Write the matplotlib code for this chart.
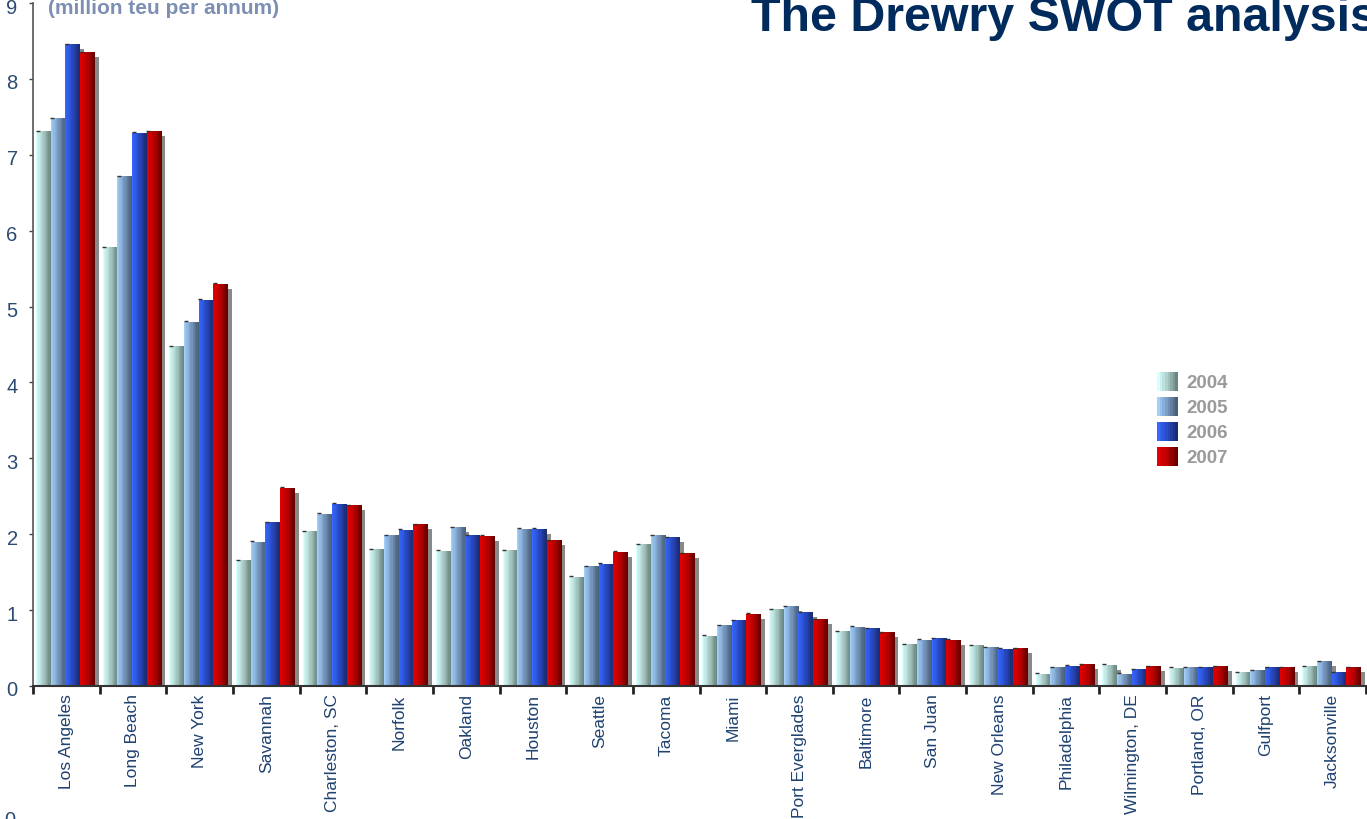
import numpy as np
import matplotlib
matplotlib.use("Agg")
import matplotlib.pyplot as plt
import matplotlib.transforms as mtransforms
from matplotlib.colors import LinearSegmentedColormap
from matplotlib.legend_handler import HandlerBase
from matplotlib.patches import Rectangle

plt.rcParams['font.family'] = ['Liberation Sans', 'DejaVu Sans']

# 港口 (million teu per annum)
ports = ["Los Angeles", "Long Beach", "New York", "Savannah", "Charleston, SC",
         "Norfolk", "Oakland", "Houston", "Seattle", "Tacoma", "Miami",
         "Port Everglades", "Baltimore", "San Juan", "New Orleans",
         "Philadelphia", "Wilmington, DE", "Portland, OR", "Gulfport", "Jacksonville"]
years = ["2004", "2005", "2006", "2007"]
teu_2004 = [7.31, 5.78, 4.48, 1.66, 2.04, 1.80, 1.78, 1.79, 1.44, 1.87,
            0.66, 1.01, 0.72, 0.55, 0.54, 0.16, 0.28, 0.24, 0.18, 0.26]
teu_2005 = [7.48, 6.72, 4.80, 1.90, 2.27, 1.99, 2.09, 2.07, 1.58, 1.99,
            0.80, 1.05, 0.78, 0.61, 0.51, 0.25, 0.16, 0.25, 0.21, 0.33]
teu_2006 = [8.46, 7.29, 5.09, 2.16, 2.40, 2.06, 1.99, 2.07, 1.61, 1.96,
            0.87, 0.97, 0.76, 0.63, 0.49, 0.27, 0.22, 0.25, 0.25, 0.18]
teu_2007 = [8.35, 7.31, 5.30, 2.61, 2.38, 2.13, 1.98, 1.92, 1.77, 1.75,
            0.95, 0.88, 0.71, 0.61, 0.50, 0.29, 0.26, 0.26, 0.25, 0.25]
series = [teu_2004, teu_2005, teu_2006, teu_2007]

# 漸層顏色 (左亮右暗)
grad_colors = [["#d8fffe", "#a9cac6", "#6a8681"],
               ["#a2cef9", "#7597bd", "#4a5f7a"],
               ["#3568ff", "#2848c0", "#1a2b72"],
               ["#e20000", "#b80000", "#660000"]]
cmaps = [LinearSegmentedColormap.from_list(f"g{i}", c) for i, c in enumerate(grad_colors)]

fig = plt.figure(figsize=(13.67, 8.19), dpi=100)
ax = fig.add_axes([33 / 1367, 133 / 819, 1333 / 1367, 683 / 819])

x = np.arange(len(ports))
bw = 0.22
start = 0.045
stripes = np.linspace(0, 1, 12).reshape(1, -1)

# 陰影
for j, vals in enumerate(series):
    ax.bar(x + start + j * bw + 0.06, np.array(vals) - 0.066, width=bw, align="edge",
           color="#898989", linewidth=0, zorder=1)

# 漸層長條
for j, vals in enumerate(series):
    bars = ax.bar(x + start + j * bw, vals, width=bw, align="edge",
                  color="none", linewidth=0, zorder=2)
    for b in bars:
        bx, by = b.get_x(), b.get_y()
        im = ax.imshow(stripes, cmap=cmaps[j], aspect="auto", interpolation="nearest",
                       extent=[bx, bx + b.get_width(), by, by + b.get_height()], zorder=2)
        im.set_clip_path(b)
    # 長條左上角的小黑線
    ax.plot(x + start + j * bw + 0.025, np.array(vals) + 0.006, ls="none", marker="_",
            ms=2.2, mew=1, color="#333333", zorder=3)

ax.set_xlim(0, len(ports))
ax.set_ylim(0, 9)

# 座標軸
ax.spines["top"].set_visible(False)
ax.spines["right"].set_visible(False)
ax.spines["left"].set_color("#555555")
ax.spines["left"].set_linewidth(1.2)
ax.spines["bottom"].set_color("#333333")
ax.spines["bottom"].set_linewidth(1.5)

ax.set_yticks(range(10))
ax.tick_params(axis="y", length=3, width=1, color="#444444", pad=8,
               labelsize=14.5, labelcolor="#2b4a72")
shift = mtransforms.ScaledTranslation(0, -3 / 100, fig.dpi_scale_trans)
for lab in ax.get_yticklabels():
    lab.set_transform(lab.get_transform() + shift)

ax.set_xticks(np.arange(len(ports) + 1))
ax.set_xticklabels([])
ax.tick_params(axis="x", which="major", length=6, width=2, color="#222222")
ax.set_xticks(x + 0.5, minor=True)
ax.set_xticklabels(ports, minor=True, rotation=90, va="top", ha="center")
ax.tick_params(axis="x", which="minor", length=0, pad=6, labelsize=12.5,
               labelcolor="#1f4270")


# 圖例 (條紋色塊)
class StripeHandler(HandlerBase):
    def __init__(self, cmap):
        super().__init__()
        self.cmap = cmap

    def create_artists(self, legend, orig_handle, xdescent, ydescent, width, height, fontsize, trans):
        n = 8
        return [Rectangle((-xdescent + i * width / n, -ydescent), width / n, height,
                          facecolor=self.cmap(i / (n - 1)), linewidth=0, transform=trans)
                for i in range(n)]


proxies = [Rectangle((0, 0), 1, 1) for _ in years]
leg = ax.legend(proxies, years, handler_map={p: StripeHandler(c) for p, c in zip(proxies, cmaps)},
                loc="upper left", bbox_to_anchor=(1157 / 1367, 1 - 372 / 819),
                bbox_transform=fig.transFigure, frameon=False, borderpad=0, borderaxespad=0,
                handlelength=1.12, handleheight=1.15, handletextpad=0.43, labelspacing=0.29,
                prop={"size": 13.5, "weight": "bold"})
for t in leg.get_texts():
    t.set_color("#9a9a9a")

# 標題
fig.text(751 / 1367, 1 - 31 / 819, "The Drewry SWOT analysis", fontsize=34.8,
         fontweight="bold", color="#002b5c", va="baseline", ha="left")
fig.text(48 / 1367, 1 - 14 / 819, "(million teu per annum)", fontsize=15,
         fontweight="bold", color="#7d8fb3", va="baseline", ha="left")
fig.text(10 / 1367, 1 - 811 / 819, "0", fontsize=14.5, color="#2b4a72", va="top", ha="center")

fig.savefig("out.png", dpi=100)
